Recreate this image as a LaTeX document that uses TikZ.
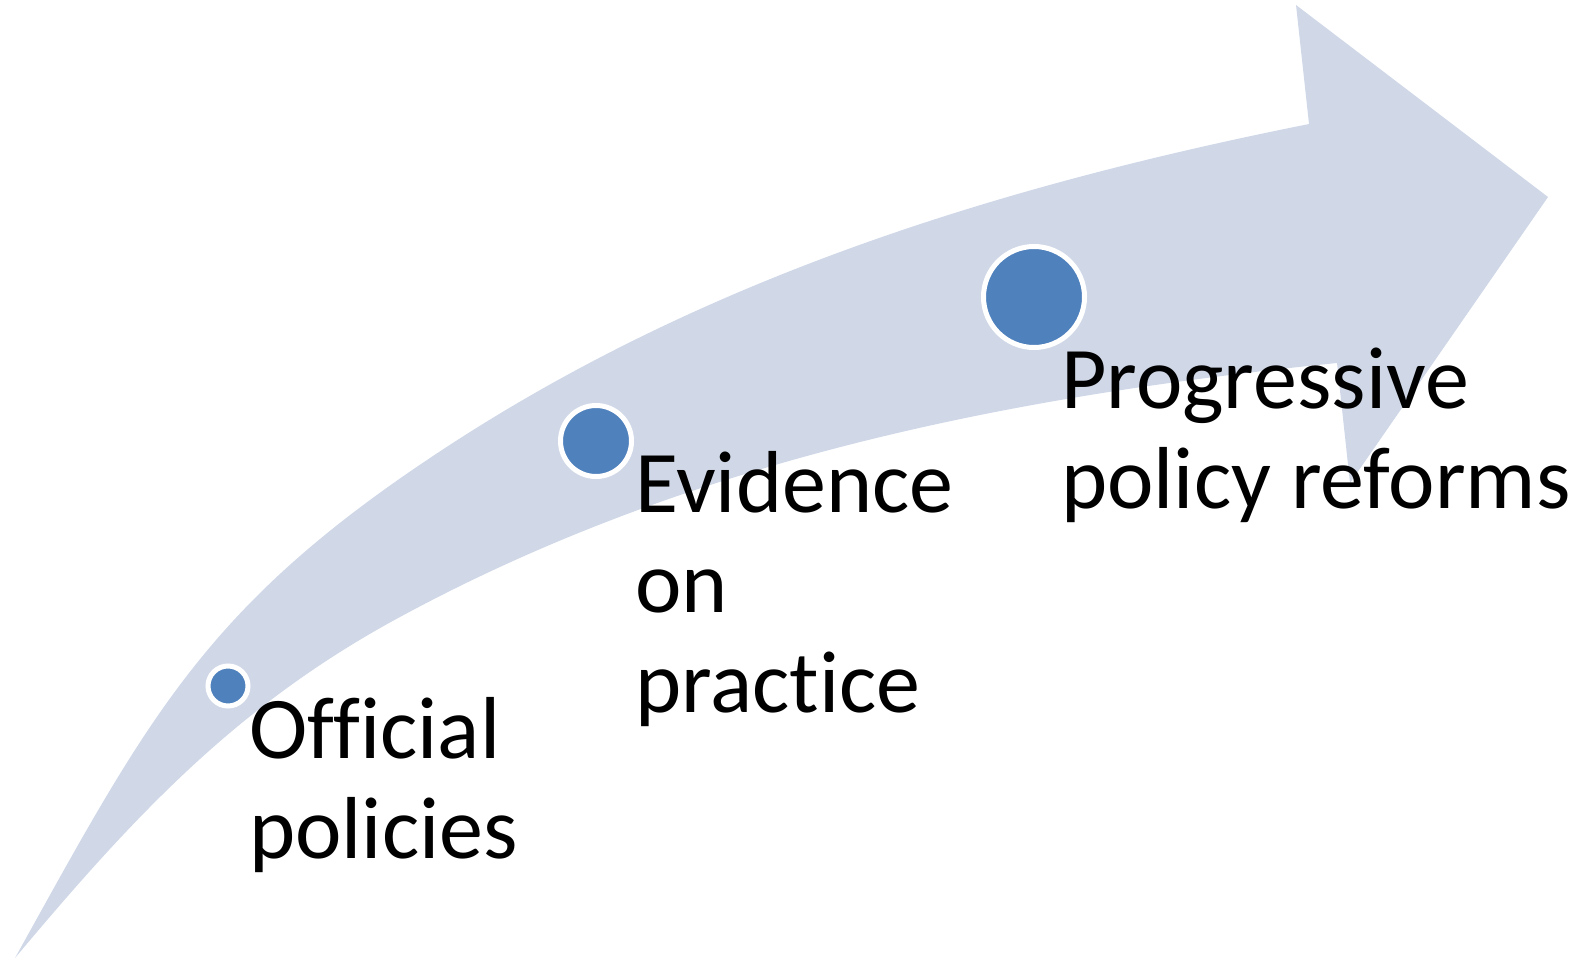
\documentclass[tikz,border=0pt]{standalone}
\usepackage{fontspec}
\setmainfont{Carlito}[Ligatures={NoCommon,NoRare}]
\definecolor{bandblue}{HTML}{D0D8E8}
\definecolor{dotblue}{HTML}{4F81BD}
\tikzset{
    dot/.style={circle, fill=dotblue, draw=white, line width=5pt, inner sep=0pt},
    steptext/.style={anchor=base west, inner sep=0pt, align=left,
        font=\fontsize{88}{100}\selectfont}
}
\begin{document}
\begin{tikzpicture}[x=1pt, y=-1pt]
    \useasboundingbox (0,0) rectangle (1587,960);

    % curved band with its head
    \fill[bandblue] (15,958) .. controls (146,722) and (203,610) .. (427,460)
        .. controls (693,281) and (994,187) .. (1309,124)
        -- (1296,5) -- (1548,197) -- (1350,483) -- (1337,363)
        .. controls (1009,396) and (690,460) .. (400,617)
        .. controls (237,705) and (134,816) .. (15,958) -- cycle;

    \node[dot, minimum size=40pt] (d1) at (228,686) {};
    \node[dot, minimum size=71pt] (d2) at (596,441) {};
    \node[dot, minimum size=101pt] (d3) at (1034,297) {};

    % base anchor sits on the last line
    \node[steptext] (off) at (249,858) {Official\\policies};
    \node[steptext] (evi) at (635,712) {Evidence\\on\\practice};
    \node[steptext] (prog) at (1061,508) {Progressive\\policy reforms};
\end{tikzpicture}
\end{document}
